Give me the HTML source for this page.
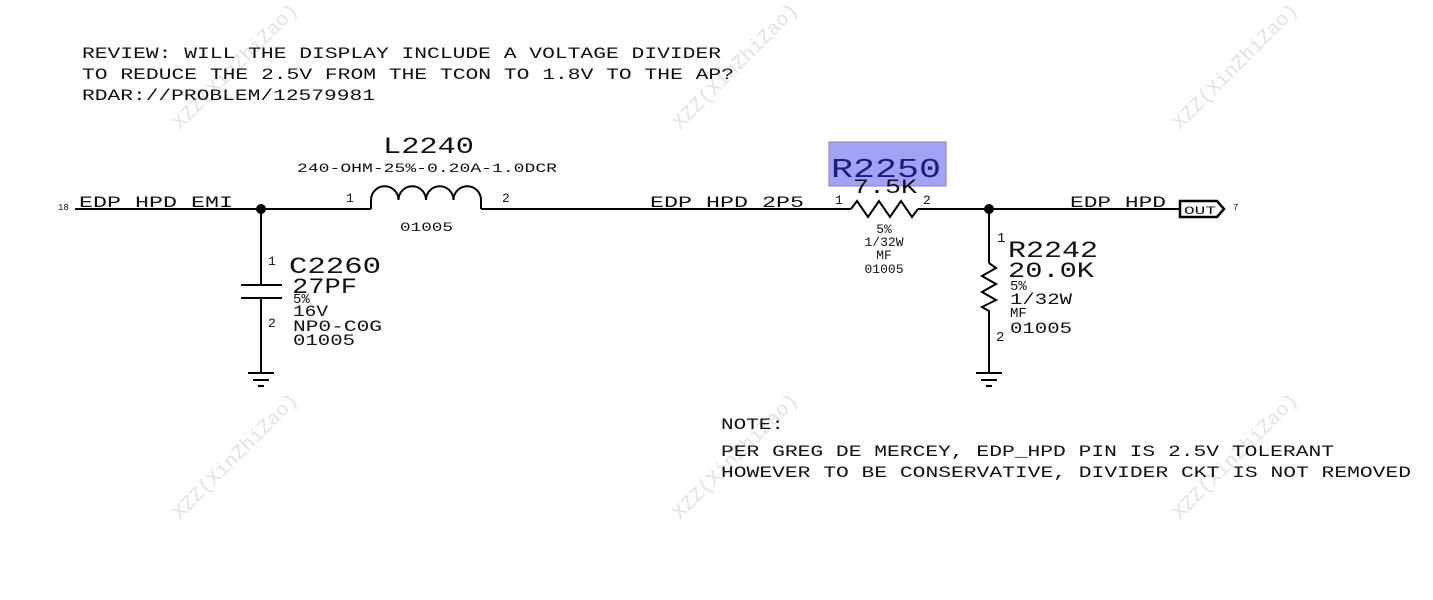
<!DOCTYPE html>
<html><head><meta charset="utf-8"><style>
html,body{margin:0;padding:0;background:#fff;width:1433px;height:600px;overflow:hidden}
svg{display:block}
text{font-family:"Liberation Mono","DejaVu Sans Mono",monospace;fill:#111}
</style></head><body>
<svg width="1433" height="600" viewBox="0 0 1433 600" xmlns="http://www.w3.org/2000/svg">
<g fill="#ddd" font-size="20" style="font-family:'Liberation Sans',sans-serif">
<text x="180" y="130" transform="rotate(-45 180 130)" style="fill:#e2e2e2">XZZ(XinZhiZao)</text>
<text x="680" y="130" transform="rotate(-45 680 130)" style="fill:#e2e2e2">XZZ(XinZhiZao)</text>
<text x="1180" y="130" transform="rotate(-45 1180 130)" style="fill:#e2e2e2">XZZ(XinZhiZao)</text>
<text x="180" y="520" transform="rotate(-45 180 520)" style="fill:#e2e2e2">XZZ(XinZhiZao)</text>
<text x="680" y="520" transform="rotate(-45 680 520)" style="fill:#e2e2e2">XZZ(XinZhiZao)</text>
<text x="1180" y="520" transform="rotate(-45 1180 520)" style="fill:#e2e2e2">XZZ(XinZhiZao)</text>
</g>
<g font-size="16">
<text x="82" y="58" textLength="639" lengthAdjust="spacingAndGlyphs">REVIEW: WILL THE DISPLAY INCLUDE A VOLTAGE DIVIDER</text>
<text x="82" y="79" textLength="652" lengthAdjust="spacingAndGlyphs">TO REDUCE THE 2.5V FROM THE TCON TO 1.8V TO THE AP?</text>
<text x="82" y="100" textLength="293" lengthAdjust="spacingAndGlyphs">RDAR://PROBLEM/12579981</text>
<text x="721" y="429" textLength="63" lengthAdjust="spacingAndGlyphs">NOTE:</text>
<text x="721" y="456" textLength="613" lengthAdjust="spacingAndGlyphs">PER GREG DE MERCEY, EDP_HPD PIN IS 2.5V TOLERANT</text>
<text x="721" y="477" textLength="690" lengthAdjust="spacingAndGlyphs">HOWEVER TO BE CONSERVATIVE, DIVIDER CKT IS NOT REMOVED</text>
</g>
<g stroke="#000" stroke-width="2" fill="none">
<line x1="75" y1="209" x2="371" y2="209"/>
<path d="M371 209 V200 A13.75 13.75 0 0 1 398.5 200 A13.75 13.75 0 0 1 426 200 A13.75 13.75 0 0 1 453.5 200 A13.75 13.75 0 0 1 481 200 V209"/>
<line x1="481" y1="209" x2="851" y2="209"/>
<path d="M851 209 L857 201 L868 217 L879 201 L890 217 L901 201 L912 217 L918 209"/>
<line x1="918" y1="209" x2="1180" y2="209"/>
<line x1="261" y1="209" x2="261" y2="285"/>
<line x1="241" y1="285" x2="282" y2="285"/>
<line x1="241" y1="298" x2="282" y2="298"/>
<line x1="261" y1="298" x2="261" y2="373"/>
<line x1="248" y1="373" x2="274" y2="373"/>
<line x1="253" y1="380" x2="269" y2="380"/>
<line x1="258" y1="386" x2="264" y2="386"/>
<line x1="989" y1="209" x2="989" y2="263"/>
<path d="M989 263 L996 268 L982 276 L996 284 L982 292 L996 300 L982 307 L989 311 V373"/>
<line x1="976" y1="373" x2="1002" y2="373"/>
<line x1="981" y1="380" x2="997" y2="380"/>
<line x1="986" y1="386" x2="992" y2="386"/>
<path d="M1180 201 H1217 L1224 209 L1217 217 H1180 Z" stroke-width="2.5"/>
</g>
<circle cx="261" cy="209" r="5" fill="#000"/>
<circle cx="989" cy="209" r="5" fill="#000"/>
<rect x="829" y="142" width="117" height="44" fill="#a3a3f5" stroke="#8080c0" stroke-width="1"/>
<text x="831" y="177" font-size="27" textLength="110" lengthAdjust="spacingAndGlyphs" style="fill:#1a1a80">R2250</text>
<g font-size="16">
<text x="383" y="153" font-size="23" textLength="91" lengthAdjust="spacingAndGlyphs">L2240</text>
<text x="297" y="172" font-size="13" textLength="260" lengthAdjust="spacingAndGlyphs">240-OHM-25%-0.20A-1.0DCR</text>
<text x="79" y="207" textLength="154" lengthAdjust="spacingAndGlyphs">EDP HPD EMI</text>
<text x="58" y="210" font-size="9">18</text>
<text x="346" y="202" font-size="13">1</text>
<text x="502" y="202" font-size="13">2</text>
<text x="400" y="231" font-size="13" textLength="53" lengthAdjust="spacingAndGlyphs">01005</text>
<text x="650" y="207" textLength="154" lengthAdjust="spacingAndGlyphs">EDP HPD 2P5</text>
<text x="853" y="193" font-size="20" textLength="64" lengthAdjust="spacingAndGlyphs">7.5K</text>
<text x="835" y="204" font-size="13">1</text>
<text x="923" y="204" font-size="13">2</text>
<g font-size="13" text-anchor="middle">
<text x="884" y="233">5%</text>
<text x="884" y="246">1/32W</text>
<text x="884" y="259">MF</text>
<text x="884" y="273">01005</text>
</g>
<text x="1070" y="207" textLength="96" lengthAdjust="spacingAndGlyphs">EDP HPD</text>
<text x="1184" y="214" font-size="11" textLength="32" lengthAdjust="spacingAndGlyphs">OUT</text>
<text x="1233" y="210" font-size="9">7</text>
<text x="997" y="242" font-size="14">1</text>
<text x="1008" y="257" font-size="23" textLength="90" lengthAdjust="spacingAndGlyphs">R2242</text>
<text x="1008" y="277" font-size="22" textLength="86" lengthAdjust="spacingAndGlyphs">20.0K</text>
<text x="1010" y="290" font-size="14">5%</text>
<text x="1010" y="304" font-size="16" textLength="62" lengthAdjust="spacingAndGlyphs">1/32W</text>
<text x="1010" y="317" font-size="14">MF</text>
<text x="1010" y="333" font-size="16" textLength="62" lengthAdjust="spacingAndGlyphs">01005</text>
<text x="996" y="341" font-size="14">2</text>
<text x="268" y="265" font-size="13">1</text>
<text x="289" y="273" font-size="23" textLength="92" lengthAdjust="spacingAndGlyphs">C2260</text>
<text x="292" y="293" font-size="22" textLength="65" lengthAdjust="spacingAndGlyphs">27PF</text>
<text x="293" y="303" font-size="14">5%</text>
<text x="293" y="316" font-size="16" textLength="35" lengthAdjust="spacingAndGlyphs">16V</text>
<text x="268" y="327" font-size="13">2</text>
<text x="293" y="331" font-size="16" textLength="89" lengthAdjust="spacingAndGlyphs">NP0-C0G</text>
<text x="293" y="345" font-size="16" textLength="62" lengthAdjust="spacingAndGlyphs">01005</text>
</g>
</svg>
</body></html>
